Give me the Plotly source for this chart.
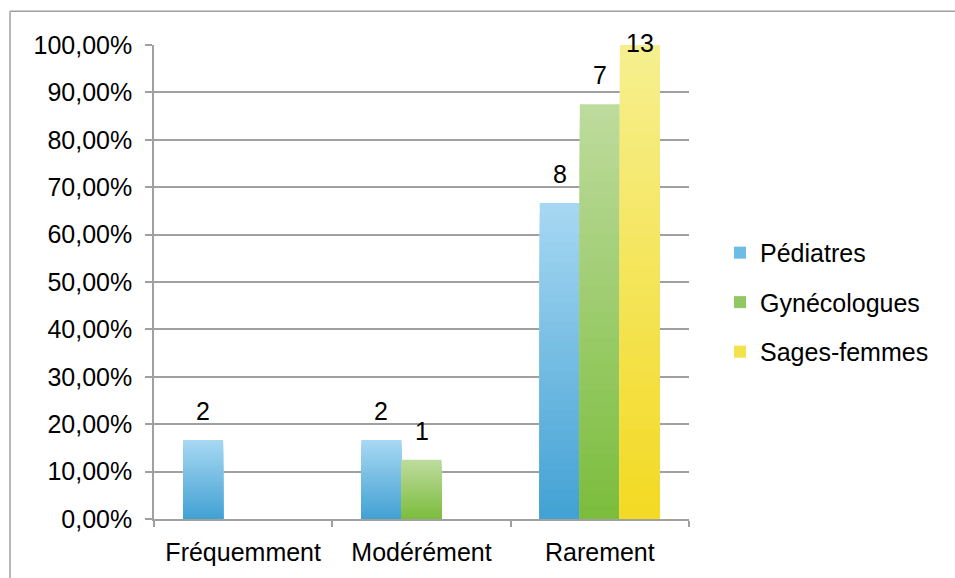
import plotly.graph_objects as go

# Survey answers: how often each profession reports the situation
categories = ["Fréquemment", "Modérément", "Rarement"]
series_names = ["Pédiatres", "Gynécologues", "Sages-femmes"]
counts_pediatres = [2, 2, 8]
counts_gynecologues = [0, 1, 7]
counts_sages_femmes = [0, 0, 13]
y_ticks = [i / 10 for i in range(11)]

counts = [counts_pediatres, counts_gynecologues, counts_sages_femmes]

# gradient end colours (top, bottom) and legend swatch colour per series
grad_top = ["#a6d7f2", "#bddb9c", "#f6ef8e"]
grad_bottom = ["#43a2d4", "#7cbd3e", "#f3da24"]
swatch = ["#6cbde6", "#8fc862", "#f4e24a"]

FONT = "Liberation Sans, Arial, Helvetica, sans-serif"
BARGAP = 0.326
N_LAYERS = 32
LABEL_CEIL = 0.944  # count labels stay inside the plot near the top


def hex_to_rgb(h):
    h = h.lstrip("#")
    return tuple(int(h[i:i + 2], 16) for i in (0, 2, 4))


def mix(c1, c2, t):
    a, b = hex_to_rgb(c1), hex_to_rgb(c2)
    return "rgb({},{},{})".format(*(round(a[i] + (b[i] - a[i]) * t) for i in range(3)))


fig = go.Figure()

for s, name in enumerate(series_names):
    total = sum(counts[s])
    pct = [c / total for c in counts[s]]
    # stacked-over layers: each shorter layer is darker, giving a vertical gradient
    for k in range(N_LAYERS):
        frac = 1 - k / N_LAYERS
        t = k / (N_LAYERS - 1)
        fig.add_trace(go.Bar(
            x=categories,
            y=[p * frac for p in pct],
            name=name,
            offsetgroup=str(s),
            legendgroup=name,
            showlegend=False,
            marker=dict(color=mix(grad_top[s], grad_bottom[s], t), line=dict(width=0)),
            hoverinfo="skip",
        ))
    # legend entry
    fig.add_trace(go.Bar(
        x=[categories[0]], y=[None], name=name, offsetgroup=str(s),
        legendgroup=name, showlegend=True,
        marker=dict(color=swatch[s], line=dict(width=0)),
    ))

    # count labels above bars
    bar_w = (1 - BARGAP) / len(series_names)
    for ci, c in enumerate(counts[s]):
        if c == 0:
            continue
        fig.add_annotation(
            x=ci + (s - 1) * bar_w,
            y=min(pct[ci], LABEL_CEIL),
            xref="x", yref="y",
            text=str(c), showarrow=False,
            yanchor="bottom", yshift=13,
            font=dict(family=FONT, size=25, color="black"),
        )

# chart frame: top and left edges
frame = dict(color="#a0a0a0", width=1.5)
fig.add_shape(type="line", xref="paper", yref="paper",
              x0=-0.2691, x1=3.0, y0=1.0713, y1=1.0713, line=frame, layer="below")
fig.add_shape(type="line", xref="paper", yref="paper",
              x0=-0.2691, x1=-0.2691, y0=-1.0, y1=1.0713, line=frame, layer="below")

axis_col = "#a0a0a0"
fig.update_layout(
    width=955, height=578,
    margin=dict(l=154, r=266, t=45, b=56),
    paper_bgcolor="white", plot_bgcolor="white",
    barmode="group", bargap=BARGAP, bargroupgap=0,
    separators=", ",
    font=dict(family=FONT, size=25, color="black"),
    showlegend=True,
    legend=dict(
        x=1.058, xanchor="left", y=0.457, yanchor="middle",
        traceorder="grouped", tracegroupgap=14,
        font=dict(family=FONT, size=25, color="black"),
        bgcolor="rgba(0,0,0,0)",
    ),
    xaxis=dict(
        showline=True, linecolor=axis_col, linewidth=1.5,
        ticks="outside", tickson="boundaries", ticklen=6, tickcolor=axis_col,
        tickwidth=1.5, ticklabelstandoff=10,
        showgrid=False, tickfont=dict(family=FONT, size=25, color="black"),
        fixedrange=True,
    ),
    yaxis=dict(
        range=[0, 1], tickvals=y_ticks, tickformat=".2%",
        showline=True, linecolor=axis_col, linewidth=1.5,
        ticks="outside", ticklen=7, tickcolor=axis_col, tickwidth=1.5,
        showgrid=True, gridcolor=axis_col, gridwidth=1.5,
        zeroline=False, ticklabelstandoff=8,
        tickfont=dict(family=FONT, size=25, color="black"),
        fixedrange=True,
    ),
)

fig.write_html("out.html")
